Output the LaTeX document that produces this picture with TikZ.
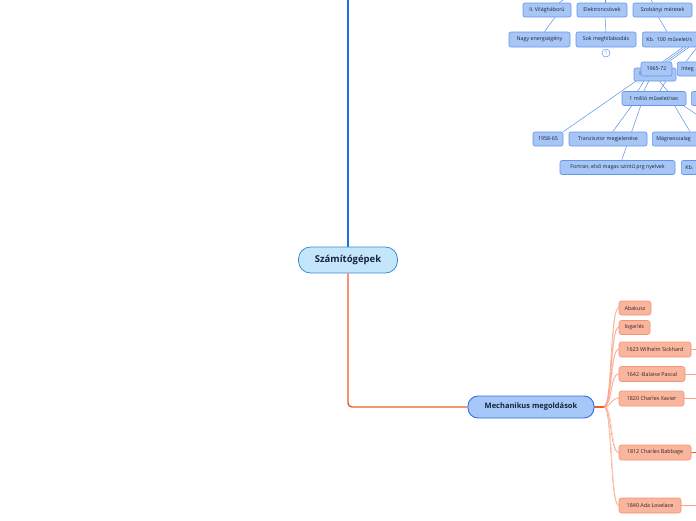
\documentclass[tikz,border=0pt]{standalone}
\usepackage{fontspec}
\setmainfont{Open Sans}
\usetikzlibrary{backgrounds}
\definecolor{trunkblue}{RGB}{31,111,220}
\definecolor{trunkor}{RGB}{240,90,40}
\definecolor{olc}{HTML}{F9A68A}
\definecolor{blc}{HTML}{5A8FE8}
\definecolor{cf}{HTML}{C4E6FB}
\definecolor{cb}{HTML}{3C8AD6}
\definecolor{mf}{HTML}{A6C8F8}
\definecolor{mb}{HTML}{2C6FE0}
\definecolor{bnf}{HTML}{A7C6F6}
\definecolor{bnb}{HTML}{6196EA}
\definecolor{onf}{HTML}{F9B59E}
\definecolor{onb}{HTML}{F49271}
\definecolor{txt}{HTML}{16233C}
\definecolor{otxt}{HTML}{33241F}
\tikzset{
  bn/.style={draw=bnb, fill=bnf, rounded corners=2, line width=0.6, font=\fontsize{5.3}{6}\selectfont, text=txt, inner sep=0, minimum height=14},
  bnw/.style={bn, anchor=west, align=left, inner xsep=4},
  on/.style={draw=onb, fill=onf, rounded corners=2.5, line width=0.6, font=\fontsize{5.4}{6}\selectfont, text=otxt, inner sep=0, minimum height=15},
  bl/.style={draw=blc, line width=0.5},
  ol/.style={draw=olc, line width=0.6},
  trunkbl/.style={draw=trunkblue, line width=1.4},
  trunkol/.style={draw=trunkor, line width=1.4}
}
\begin{document}
\begin{tikzpicture}[x=1pt,y=-1pt]
\useasboundingbox (0,0) rectangle (696,520);
\clip (0,0) rectangle (696,520);
% main nodes
\node[draw=cb, fill=cf, rounded corners=12, line width=0.8, minimum width=99, minimum height=26, inner sep=0, font=\bfseries\fontsize{9.5}{11}\selectfont, text=txt] (root) at (348,260) {Számítógépek};
\node[draw=mb, fill=mf, rounded corners=10, line width=0.9, minimum width=126, minimum height=22, inner sep=0, font=\bfseries\fontsize{7.5}{9}\selectfont, text=txt] (mech) at (531,407) {Mechanikus megoldások};
% blue cluster
\node[bn, minimum width=48] (vil) at (547,10) {II. Világháború};
\node[bn, minimum width=50] (elek) at (602,10) {Elektroncsövek};
\node[bn, minimum width=59] (szob) at (662.5,10) {Szobányi méretek};
\node[bn, minimum width=61, minimum height=15] (nagy) at (539.5,39.5) {Nagy energiaigény};
\node[bn, minimum width=60, minimum height=15] (sok) at (606,39.5) {Sok meghibásodás};
\node[bnw, text width=62, minimum height=15] (kb100) at (642,39.5) {Kb. 100 művelet/s};
\node[circle, draw=bnb, fill=white, line width=0.5, minimum size=8, inner sep=0, font=\fontsize{5}{5}\selectfont, text=blc] (c1) at (606,53) {1};
\node[bn, minimum width=42, minimum height=13] (gen) at (655,74.5) {III. generáció};
\node[bn, minimum width=31] (y6572) at (656.5,69) {1965-72};
\node[bnw, text width=60] (integ) at (677,69) {Integ};
\node[bn, minimum width=64] (milli) at (654,98.5) {1 millió művelet/sec};
\node[bn, anchor=west, minimum width=40] (rbox) at (691,98.5) {};
\node[bn, minimum width=30] (y5865) at (548,139) {1958-65};
\node[bn, minimum width=78] (tranz) at (608,139) {Tranzisztor megjelenése};
\node[bnw, text width=60] (magn) at (652,139) {Mágnesszalag};
\node[bn, minimum width=115] (fort) at (617.5,167.5) {Fortran, első magas szintű prg nyelvek};
\node[bnw, text width=60] (kb1) at (681,167.5) {Kb.};
% orange nodes
\node[on, minimum width=32, minimum height=14] (abak) at (635,308) {Abakusz};
\node[on, minimum width=31, minimum height=14] (loga) at (634.5,327.5) {logarléc};
\node[on, minimum width=72] (sick) at (655,349.5) {1623 Wilhelm Sickhard};
\node[on, minimum width=66] (pasc) at (652,374) {1642 -Balaise Pascal};
\node[on, minimum width=65] (xav) at (651.5,398.5) {1820 Charles Xavier};
\node[on, minimum width=72] (babb) at (655,452.5) {1812 Charles Babbage};
\node[on, minimum width=62] (ada) at (650,505.5) {1840 Ada Lovelace};
% coordinates
\coordinate (top) at (348,-3);
\coordinate (hub) at (604,407);
\coordinate (tv) at (568,-3);
\coordinate (te) at (605,-3);
\coordinate (ts) at (650,-3);
\coordinate (rm) at (702,118);
\coordinate (rs) at (700,349.5);
\coordinate (rp) at (700,374);
\coordinate (rx) at (700,398.5);
\coordinate (rb) at (700,452.5);
\coordinate (ra) at (700,505.5);
\begin{scope}[on background layer]
\draw[trunkbl] (root.north) -- (top);
\draw[trunkol, rounded corners=4] (root.south) |- (mech.west);
\draw[trunkol] (mech.east) -- (hub);
\foreach \n in {abak,loga,sick,pasc,xav,babb,ada}{
  \draw[ol] (hub) .. controls +(8,0) and +(-9,0) .. (\n.west);
  \draw[ol, opacity=0.6] ([yshift=1]hub) .. controls +(9,0) and +(-8,0) .. ([yshift=0.8]\n.west);
}
\draw[ol] (sick.east) -- (rs);
\draw[ol] (pasc.east) -- (rp);
\draw[ol] (xav.east) -- (rx);
\draw[trunkol, line width=0.8] (babb.east) -- (rb);
\draw[ol] (ada.east) -- (ra);
% blue connectors
\draw[bl] (tv) -- ([xshift=12]vil.north);
\draw[bl] (te) -- ([xshift=3]elek.north);
\draw[bl] (ts) -- ([xshift=-10]szob.north);
\draw[bl] ([xshift=8]vil.south) -- ([xshift=5]nagy.north);
\draw[bl] ([xshift=3]elek.south) -- (sok.north);
\draw[bl] ([xshift=-4]szob.south) -- ([xshift=25]kb100.north west);
\foreach \d in {0,3,6}
  \draw[bl] ([xshift=41+\d]kb100.south west) -- ([xshift=22+\d]y6572.north west);
\draw[bl] ([xshift=55]kb100.south west) -- ([xshift=9]integ.north west);
\draw[bl] ([xshift=2]gen.south west) -- (y5865.north east);
\draw[bl] ([xshift=10]gen.south west) -- ([xshift=16]milli.north west);
\draw[bl] ([xshift=15]gen.south west) -- ([xshift=22]milli.north west);
\draw[bl] ([xshift=26]gen.south west) -- ([xshift=46]milli.north west);
\draw[bl] ([xshift=32]gen.south west) -- ([xshift=38]milli.north west);
\draw[bl] ([xshift=10]milli.south west) -- ([xshift=44]tranz.north west);
\draw[bl] ([xshift=19]milli.south west) -- ([xshift=62]fort.north west);
\draw[bl] ([xshift=53]milli.south west) -- ([xshift=38]magn.north west);
\draw[bl] ([xshift=62]milli.south west) -- (rm);
\end{scope}
\end{tikzpicture}
\end{document}
